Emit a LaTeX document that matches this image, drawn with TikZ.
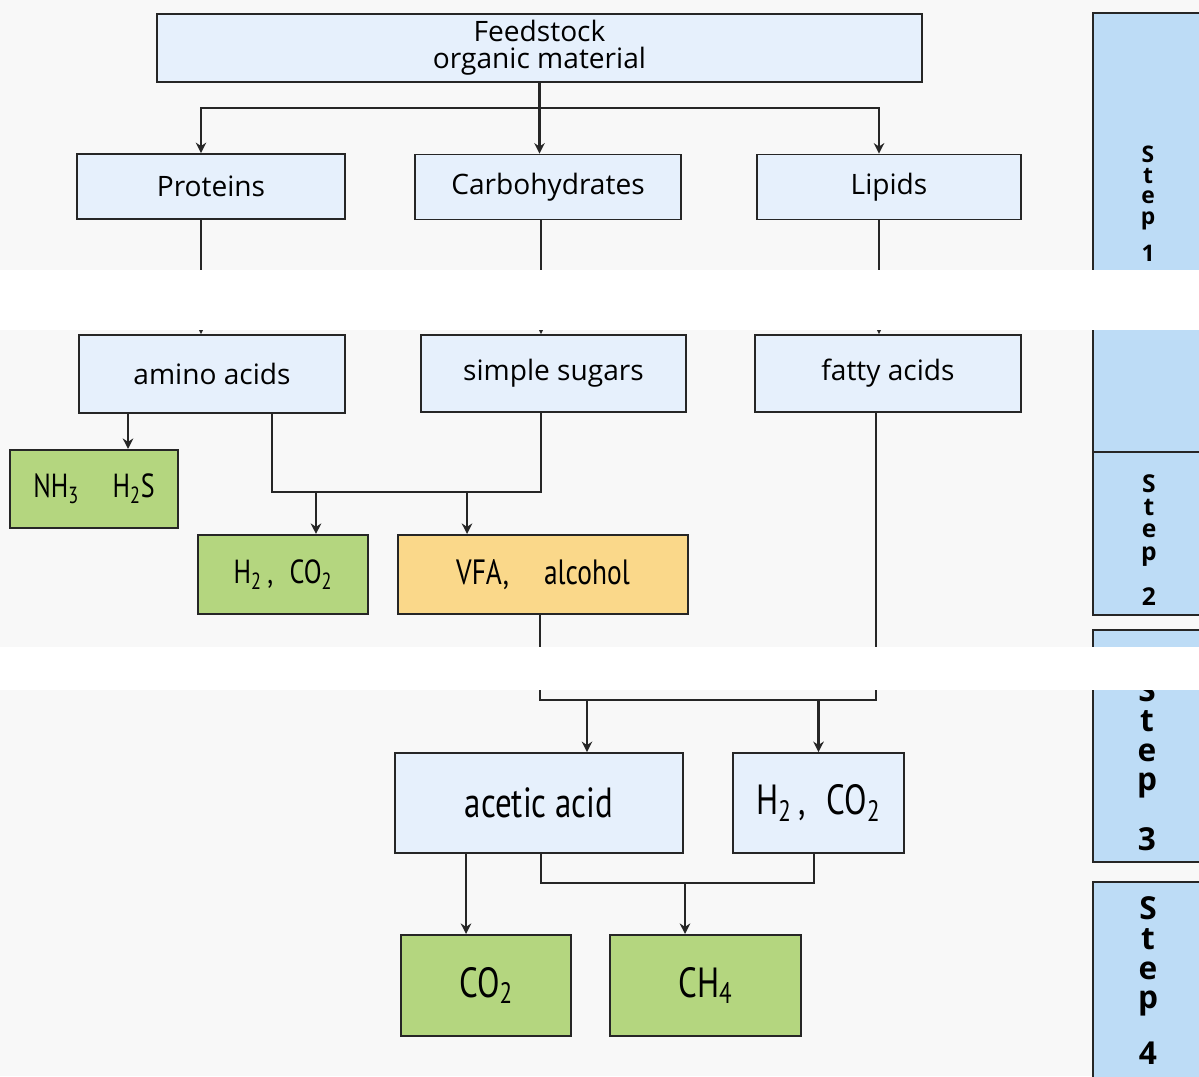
\documentclass[tikz,border=0pt]{standalone}
\usepackage{fontspec}
\setmainfont{Open Sans}
\newfontfamily\narrowfont[FakeStretch=0.78]{PT Sans}
\usetikzlibrary{arrows, arrows.meta, positioning}
\definecolor{paper}{HTML}{F8F8F8}
\definecolor{edge}{HTML}{262626}
\definecolor{paleblue}{HTML}{E6F0FC}
\definecolor{stepblue}{HTML}{BDDCF6}
\definecolor{leaf}{HTML}{B4D67F}
\definecolor{sand}{HTML}{FAD88A}
\tikzstyle{stage} = [rectangle, minimum width=5.3cm, minimum height=1.3cm, text centered, draw=edge, line width=1pt, fill=paleblue, font={\fontsize{16pt}{15.5pt}\selectfont}]
\tikzstyle{gas} = [rectangle, minimum width=3.4cm, minimum height=1.58cm, text centered, draw=edge, line width=1.2pt, fill=leaf, font={\narrowfont\fontsize{19pt}{20pt}\selectfont}]
\tikzstyle{acid} = [gas, fill=sand]
\tikzstyle{arrow} = [line width=1.2pt, draw=edge, -{Stealth[length=6pt,width=6pt]}]
\tikzstyle{link} = [line width=1.2pt, draw=edge]
\tikzstyle{stepbox} = [fill=stepblue, draw=edge, line width=1pt]
\tikzstyle{steptext} = [align=center, anchor=north, inner sep=0pt]

\begin{document}
\begin{tikzpicture}[x=0.02cm, y=-0.02cm]
    \useasboundingbox (0,0) rectangle (1199,1076);
    \fill [paper] (0,0) rectangle (1199,1076);

    % step column
    \draw [stepbox] (1093,13) rectangle (1215,452);
    \draw [stepbox] (1093,452) rectangle (1215,615);
    \draw [stepbox] (1093,630) rectangle (1215,862);
    \draw [stepbox] (1093,882) rectangle (1215,1095);
    \node (step1) [steptext, font={\bfseries\fontsize{13pt}{11.6pt}\selectfont}] at (1148,146) {S\\t\\e\\p\\[0.28cm]1};
    \node (step2) [steptext, font={\bfseries\fontsize{14pt}{13pt}\selectfont}] at (1149,474) {S\\t\\e\\p\\[0.38cm]2};
    \node (step3) [steptext, font={\bfseries\fontsize{18pt}{17pt}\selectfont}] at (1147,678) {S\\t\\e\\p\\[0.54cm]3};
    \node (step4) [steptext, font={\bfseries\fontsize{18pt}{17pt}\selectfont}] at (1148,896) {S\\t\\e\\p\\[0.48cm]4};

    % hydrolysis
    \node (feed) [stage, minimum width=15.3cm, minimum height=1.36cm, align=center] at (539.5,48) {Feedstock\\organic material};
    \node (prot) [stage, minimum width=5.36cm] at (211,186.5) {Proteins};
    \node (carb) [stage, minimum width=5.32cm] at (548,187) {Carbohydrates};
    \node (lip) [stage, minimum width=5.28cm] at (889,187) {Lipids};

    \node (amino) [stage, minimum width=5.32cm, minimum height=1.56cm] at (212,374) {amino acids};
    \node (sugar) [stage, minimum width=5.3cm, minimum height=1.54cm] at (553.5,373.5) {simple sugars};
    \node (fatty) [stage, minimum width=5.32cm, minimum height=1.54cm] at (888,373.5) {fatty acids};

    % acidogenesis
    \node (nh) [gas, minimum width=3.36cm, minimum height=1.56cm] at (94,489) {NH\textsubscript{3}\quad H\textsubscript{2}S};
    \node (gasa) [gas] at (283,574.5) {H\textsubscript{2}\,,\; CO\textsubscript{2}};
    \node (vfa) [acid, minimum width=5.8cm, font={\narrowfont\fontsize{20pt}{21pt}\selectfont}] at (543,574.5) {VFA,\quad alcohol};

    % acetogenesis
    \node (acetic) [stage, minimum width=5.76cm, minimum height=2cm, font={\narrowfont\fontsize{24pt}{25pt}\selectfont}] at (539,803) {acetic acid};
    \node (gasb) [stage, minimum width=3.42cm, minimum height=2cm, font={\narrowfont\fontsize{24pt}{25pt}\selectfont}] at (818.5,803) {H\textsubscript{2}\,,\; CO\textsubscript{2}};

    % methanogenesis
    \node (co) [gas, minimum height=2.02cm, font={\narrowfont\fontsize{24pt}{25pt}\selectfont}] at (486,985.5) {CO\textsubscript{2}};
    \node (ch) [gas, minimum width=3.82cm, minimum height=2.02cm, font={\narrowfont\fontsize{24pt}{25pt}\selectfont}] at (705.5,985.5) {CH\textsubscript{4}};

    \coordinate (fork) at (540,108);
    \coordinate (join1) at (400,492);
    \coordinate (join2) at (700,700);
    \coordinate (join3) at (680,883);

    \draw [arrow] (feed.south) -- (feed.south |- carb.north);
    \draw [link] ([xshift=-0.2cm]prot.north |- fork) -- ([xshift=-0.2cm]lip.north |- fork);
    \draw [arrow] (fork) -| ([xshift=-0.2cm]prot.north);
    \draw [arrow] (fork) -| ([xshift=-0.2cm]lip.north);

    \draw [arrow] ([xshift=-0.2cm]prot.south) -- ([xshift=-0.2cm]prot.south |- amino.north);
    \draw [arrow] ([xshift=-0.14cm]carb.south) -- ([xshift=-0.14cm]carb.south |- sugar.north);
    \draw [arrow] ([xshift=-0.2cm]lip.south) -- ([xshift=-0.2cm]lip.south |- fatty.north);

    \draw [arrow] ([xshift=-1.68cm]amino.south) -- ([xshift=-1.68cm]amino.south |- nh.north);
    \draw [link] ([xshift=1.2cm]amino.south) |- (join1) -| ([xshift=-0.25cm]sugar.south);
    \draw [arrow] ([xshift=0.66cm]gasa.north |- join1) -- ([xshift=0.66cm]gasa.north);
    \draw [arrow] ([xshift=-1.52cm]vfa.north |- join1) -- ([xshift=-1.52cm]vfa.north);

    \draw [link] ([xshift=-0.06cm]vfa.south) |- (join2) -| ([xshift=-0.24cm]fatty.south);
    \draw [arrow] ([xshift=0.96cm]acetic.north |- join2) -- ([xshift=0.96cm]acetic.north);
    \draw [arrow] (gasb.north |- join2) -- (gasb.north);

    \draw [arrow] ([xshift=-1.46cm]acetic.south) -- ([xshift=-1.46cm]acetic.south |- co.north);
    \draw [link] ([xshift=0.04cm]acetic.south) |- (join3) -| ([xshift=-0.09cm]gasb.south);
    \draw [arrow] ([xshift=-0.41cm]ch.north |- join3) -- ([xshift=-0.41cm]ch.north);

    % blank strips of the scan
    \fill [white] (0,270) rectangle (1199,330);
    \fill [white] (0,647) rectangle (1199,690);
\end{tikzpicture}
\end{document}
